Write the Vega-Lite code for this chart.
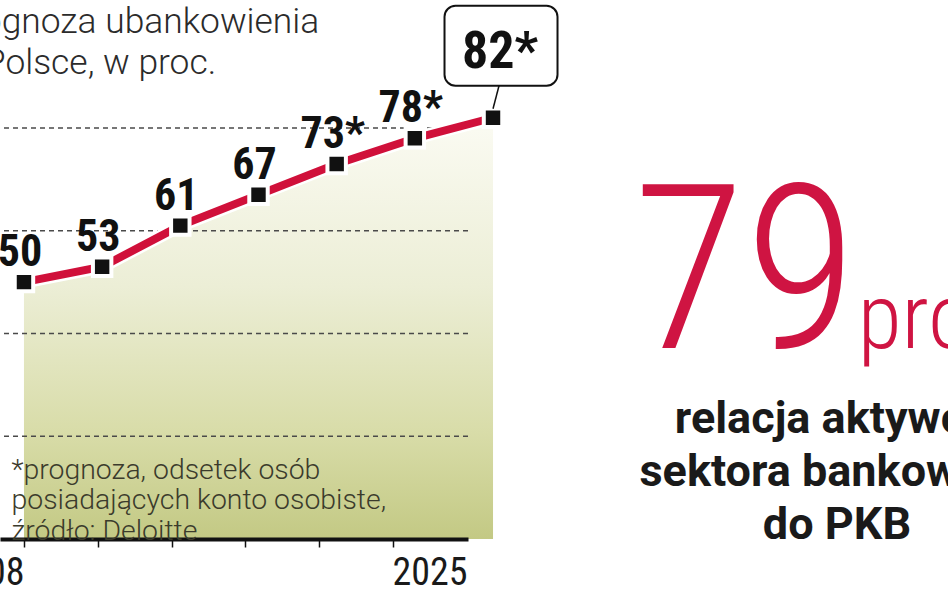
{
  "$schema": "https://vega.github.io/schema/vega-lite/v6.json",
  "width": 468,
  "height": 539,
  "autosize": {"type": "none"},
  "padding": {"left": 0, "top": 0, "right": 480, "bottom": 54},
  "background": "white",
  "config": {"view": {"stroke": null}},
  "data": {"values": [
    {"year": 2008, "value": 50, "label": "50"},
    {"year": 2011, "value": 53, "label": "53"},
    {"year": 2014, "value": 61, "label": "61"},
    {"year": 2017, "value": 67, "label": "67"},
    {"year": 2020, "value": 73, "label": "73*"},
    {"year": 2023, "value": 78, "label": "78*"},
    {"year": 2026, "value": 82, "label": "82*"}
  ]},
  "layer": [
    {
      "mark": {"type": "area", "color": {"gradient": "linear", "x1": 0, "y1": 0, "x2": 0, "y2": 1, "stops": [
        {"offset": 0, "color": "#fbfbf3"},
        {"offset": 0.4, "color": "#eceed6"},
        {"offset": 0.75, "color": "#d8dca8"},
        {"offset": 1, "color": "#c3c984"}
      ]}},
      "encoding": {
        "x": {"field": "year", "type": "quantitative",
          "scale": {"domain": [2007.08, 2025.04], "nice": false, "zero": false},
          "axis": {
            "zindex": 1,
            "values": [2008, 2010.8333, 2013.6667, 2016.5, 2019.3333, 2022.1667, 2025],
            "labelExpr": "datum.value == 2008 ? '2008' : (datum.value == 2025 ? '2025' : '')",
            "labelAlign": "right",
            "labelFont": "'Roboto Condensed', Roboto",
            "labelFontSize": 38,
            "labelColor": "#1a1a1a",
            "labelPadding": 7,
            "labelOverlap": false,
            "labelBound": false,
            "labelFlush": false,
            "tickSize": 8,
            "tickWidth": 1.5,
            "tickColor": "#111",
            "tickOpacity": {"condition": {"test": "datum.value == 2025", "value": 0}, "value": 1},
            "domainColor": "#111",
            "domainWidth": 4,
            "grid": false,
            "title": ["*prognoza, odsetek osób", "posiadających konto osobiste,", "źródło: Deloitte"],
            "titleX": 11,
            "titleY": -61,
            "titleAlign": "left",
            "titleAnchor": "start",
            "titleBaseline": "alphabetic",
            "titleFont": "Roboto",
            "titleFontWeight": 300,
            "titleFontSize": 28.4,
            "titleLineHeight": 30.5,
            "titleColor": "#3b3b2c"
          }},
        "y": {"field": "value", "type": "quantitative",
          "scale": {"domain": [0, 104.92], "nice": false, "zero": true},
          "axis": {
            "grid": false, "ticks": false, "labels": false, "domain": false,
            "title": ["Prognoza ubankowienia", "w Polsce, w proc."],
            "titleAngle": 0,
            "titleX": -52,
            "titleY": 32,
            "titleAlign": "left",
            "titleBaseline": "alphabetic",
            "titleFont": "Roboto",
            "titleFontWeight": 300,
            "titleFontSize": 35.4,
            "titleLineHeight": 41,
            "titleColor": "#2b2b2b"
          }}
      }
    },
    {
      "data": {"values": [{"level": 20}, {"level": 40}, {"level": 60}, {"level": 80}]},
      "mark": {"type": "rule", "color": "#4a4a4a", "strokeWidth": 1.5, "strokeDash": [5, 4]},
      "encoding": {"y": {"field": "level", "type": "quantitative"}}
    },
    {
      "mark": {"type": "line", "color": "white", "strokeWidth": 13},
      "encoding": {
        "x": {"field": "year", "type": "quantitative"},
        "y": {"field": "value", "type": "quantitative"}
      }
    },
    {
      "mark": {"type": "line", "color": "#d0103a", "strokeWidth": 8},
      "encoding": {
        "x": {"field": "year", "type": "quantitative"},
        "y": {"field": "value", "type": "quantitative"}
      }
    },
    {
      "mark": {"type": "point", "shape": "square", "filled": true, "fill": "#111", "stroke": "white", "strokeWidth": 4, "size": 340, "opacity": 1},
      "encoding": {
        "x": {"field": "year", "type": "quantitative"},
        "y": {"field": "value", "type": "quantitative"}
      }
    },
    {
      "transform": [{"filter": "datum.year < 2026"}],
      "mark": {"type": "text", "font": "'Roboto Condensed', Roboto", "fontWeight": "bold", "fontSize": 44, "baseline": "alphabetic", "align": "center", "dy": -16, "dx": -4, "color": "#111"},
      "encoding": {
        "x": {"field": "year", "type": "quantitative"},
        "y": {"field": "value", "type": "quantitative"},
        "text": {"field": "label"}
      }
    },
    {
      "transform": [{"filter": "datum.year == 2026"}],
      "mark": {"type": "rect", "width": 113, "height": 80, "cornerRadius": 11, "fill": "white", "stroke": "#111", "strokeWidth": 2, "xOffset": 8, "yOffset": -72},
      "encoding": {
        "x": {"field": "year", "type": "quantitative"},
        "y": {"field": "value", "type": "quantitative"}
      }
    },
    {
      "transform": [{"filter": "datum.year == 2026"}],
      "mark": {"type": "rule", "color": "#111", "strokeWidth": 1.5, "yOffset": -9, "y2Offset": -32, "x2Offset": 6},
      "encoding": {
        "x": {"field": "year", "type": "quantitative"},
        "y": {"field": "value", "type": "quantitative"},
        "x2": {"field": "year"},
        "y2": {"field": "value"}
      }
    },
    {
      "transform": [{"filter": "datum.year == 2026"}],
      "mark": {"type": "text", "font": "'Roboto Condensed', Roboto", "fontWeight": "bold", "fontSize": 52, "baseline": "alphabetic", "align": "center", "dx": 7, "dy": -50, "color": "#111"},
      "encoding": {
        "x": {"field": "year", "type": "quantitative"},
        "y": {"field": "value", "type": "quantitative"},
        "text": {"field": "label"}
      }
    },
    {
      "data": {"values": [{"note": "79"}]},
      "mark": {"type": "text", "font": "'Roboto Condensed', Roboto", "fontWeight": 300, "fontSize": 230, "align": "center", "baseline": "alphabetic", "color": "#cf1442"},
      "encoding": {
        "x": {"datum": 2035.67, "type": "quantitative"},
        "y": {"datum": 37.18, "type": "quantitative"},
        "text": {"field": "note"}
      }
    },
    {
      "data": {"values": [{"note": "proc."}]},
      "mark": {"type": "text", "font": "'Roboto Condensed', Roboto", "fontWeight": 300, "fontSize": 90, "align": "left", "baseline": "alphabetic", "color": "#cf1442"},
      "encoding": {
        "x": {"datum": 2040.0, "type": "quantitative"},
        "y": {"datum": 37.18, "type": "quantitative"},
        "text": {"field": "note"}
      }
    },
    {
      "data": {"values": [{"note": ["relacja aktywów", "sektora bankowego", "do PKB"]}]},
      "mark": {"type": "text", "font": "Roboto", "fontWeight": "bold", "fontSize": 45, "lineHeight": 53, "align": "center", "baseline": "alphabetic", "color": "#1a1a1a"},
      "encoding": {
        "x": {"datum": 2039.2, "type": "quantitative"},
        "y": {"datum": 20.63, "type": "quantitative"},
        "text": {"field": "note"}
      }
    }
  ]
}
